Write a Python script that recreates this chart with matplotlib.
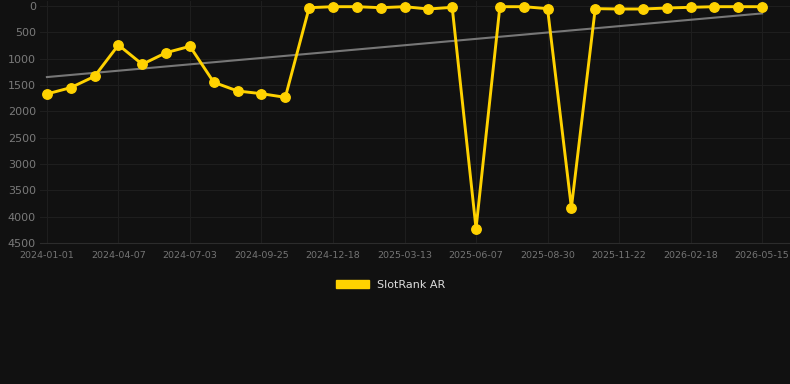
import numpy as np
import matplotlib
matplotlib.use("Agg")
import matplotlib.pyplot as plt
from matplotlib.patches import Patch

# rank values, one point per step; x labels every 3rd point
ranks = [1670, 1550, 1335, 740, 1107, 886, 765, 1449, 1614, 1665, 1734,
         32, 13, 13, 32, 13, 57, 25, 4225, 13, 13, 50, 3830,
         50, 57, 57, 38, 25, 13, 13, 13]
tick_labels = ['2024-01-01', '2024-04-07', '2024-07-03', '2024-09-25', '2024-12-18',
               '2025-03-13', '2025-06-07', '2025-08-30', '2025-11-22', '2026-02-18',
               '2026-05-15']
y_ticks = [0, 500, 1000, 1500, 2000, 2500, 3000, 3500, 4000, 4500]

bg = '#111111'
x = np.arange(len(ranks))

fig = plt.figure(figsize=(7.9, 3.84), dpi=100, facecolor=bg)
ax = fig.add_axes([40 / 790, 1 - 243 / 384, 750 / 790, 242 / 384])
ax.set_facecolor(bg)

# trend line (linear fit)
k, b = np.polyfit(x, ranks, 1)
ax.plot(x, k * x + b, color='#777777', lw=1.5, zorder=2)

ax.plot(x, ranks, color='#FFD200', lw=2.1, marker='o', markersize=6.8,
        solid_joinstyle='miter', zorder=3, clip_on=False)

ax.set_xlim(-0.29, 31.17)
ax.set_ylim(4500, -95)
ax.set_xticks(x[::3])
ax.set_xticklabels(tick_labels)
ax.set_yticks(y_ticks)

ax.grid(True, color='#1e1e1e', lw=0.8)
ax.set_axisbelow(True)
for s in ['top', 'right', 'left']:
    ax.spines[s].set_visible(False)
ax.spines['bottom'].set_color('#2c2c2c')
ax.tick_params(axis='x', colors='#747474', labelsize=6.8, length=0, pad=6)
ax.tick_params(axis='y', colors='#7a7a7a', labelsize=8, length=0, pad=3)

fig.legend(handles=[Patch(color='#FFD200', label='SlotRank AR')],
           loc='center', bbox_to_anchor=(0.495, 0.258), frameon=False,
           handlelength=2.9, handleheight=0.8, fontsize=8, labelcolor='#dddddd')

fig.savefig('out.png', dpi=100, facecolor=bg)
